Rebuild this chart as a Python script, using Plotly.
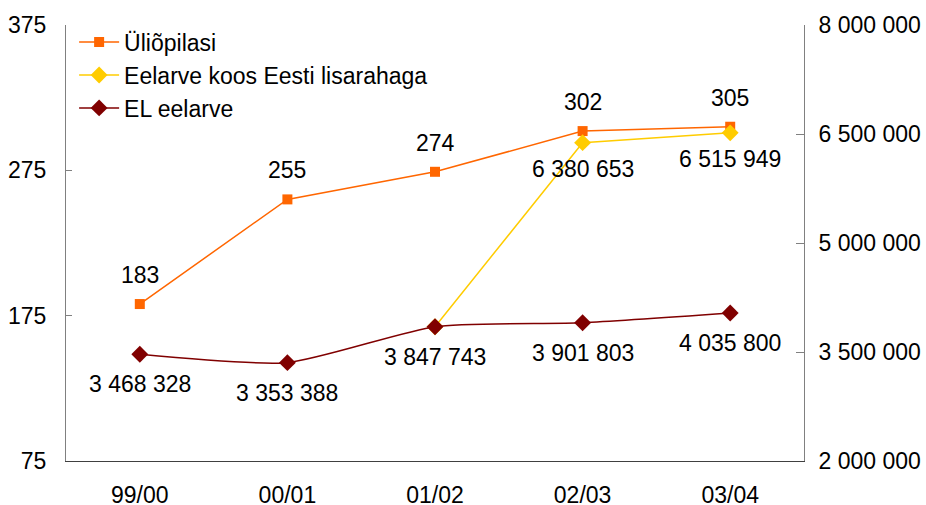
import plotly.graph_objects as go

categories = ["99/00", "00/01", "01/02", "02/03", "03/04"]
students = [183, 255, 274, 302, 305]
budget_est = [None, None, 3847743, 6380653, 6515949]
budget_eu = [3468328, 3353388, 3847743, 3901803, 4035800]

left_ticks = [75, 175, 275, 375]
right_ticks = [2000000, 3500000, 5000000, 6500000, 8000000]

def fmt(v):
    return f"{v:,}".replace(",", " ")

FONT = "Liberation Sans, Arial, sans-serif"
FS = 23
ORANGE = "#FF6600"
YELLOW = "#FFCC00"
MAROON = "#800000"

fig = go.Figure()
fig.add_trace(go.Scatter(
    x=categories, y=students, name="Üliõpilasi", mode="lines+markers",
    line=dict(color=ORANGE, width=1.5),
    marker=dict(symbol="square", size=10, color=ORANGE),
    yaxis="y"))
fig.add_trace(go.Scatter(
    x=categories, y=budget_est, name="Eelarve koos Eesti lisarahaga", mode="lines+markers",
    line=dict(color=YELLOW, width=1.5),
    marker=dict(symbol="diamond", size=13, color=YELLOW),
    yaxis="y2", connectgaps=False))
fig.add_trace(go.Scatter(
    x=categories, y=budget_eu, name="EL eelarve", mode="lines+markers",
    line=dict(color=MAROON, width=1.5, shape="spline", smoothing=0.6),
    marker=dict(symbol="diamond", size=13, color=MAROON),
    yaxis="y2"))

annotations = []
for c, v in zip(categories, students):
    annotations.append(dict(x=c, y=v, xref="x", yref="y", text=str(v), showarrow=False,
                            yshift=29, font=dict(size=FS, color="black", family=FONT)))
for c, v, e in zip(categories, budget_est, budget_eu):
    if v is not None and v != e:
        annotations.append(dict(x=c, y=v, xref="x", yref="y2", text=fmt(v), showarrow=False,
                                yshift=-26, font=dict(size=FS, color="black", family=FONT)))
for c, v in zip(categories, budget_eu):
    annotations.append(dict(x=c, y=v, xref="x", yref="y2", text=fmt(v), showarrow=False,
                            yshift=-30, font=dict(size=FS, color="black", family=FONT)))

fig.update_layout(
    width=926, height=505,
    margin=dict(l=66, r=122, t=25, b=44, autoexpand=False),
    paper_bgcolor="white", plot_bgcolor="white",
    font=dict(family=FONT, size=FS, color="black"),
    showlegend=True,
    legend=dict(x=0.011, y=1.01, xanchor="left", yanchor="top",
                bgcolor="rgba(0,0,0,0)", font=dict(size=FS, family=FONT),
                tracegroupgap=0, itemwidth=40),
    xaxis=dict(type="category", range=[-0.5, 4.5], showline=True, linecolor="#404040",
               linewidth=1, ticks="", showgrid=False, zeroline=False, automargin=False,
               tickfont=dict(size=FS), ticklabelstandoff=13),
    yaxis=dict(range=[75, 375], tickvals=left_ticks, ticktext=[str(t) for t in left_ticks],
               showline=True, linecolor="#808080", linewidth=1, ticks="inside", ticklen=6,
               tickcolor="#808080", showgrid=False, zeroline=False, automargin=False,
               tickfont=dict(size=FS), ticklabelstandoff=14),
    yaxis2=dict(range=[2000000, 8000000], tickvals=right_ticks, ticktext=[fmt(t) for t in right_ticks],
                overlaying="y", side="right", showline=True, linecolor="#808080", linewidth=1,
                ticks="inside", ticklen=8, tickcolor="#808080", showgrid=False, zeroline=False,
                automargin=False, tickfont=dict(size=FS), ticklabelstandoff=9),
    annotations=annotations,
)

# remove the default 8px page margin so the 926x505 figure fills the window exactly
fig.write_html("out.html", config={"displayModeBar": False},
               post_script="document.body.style.margin='0';document.body.style.overflow='hidden';")
